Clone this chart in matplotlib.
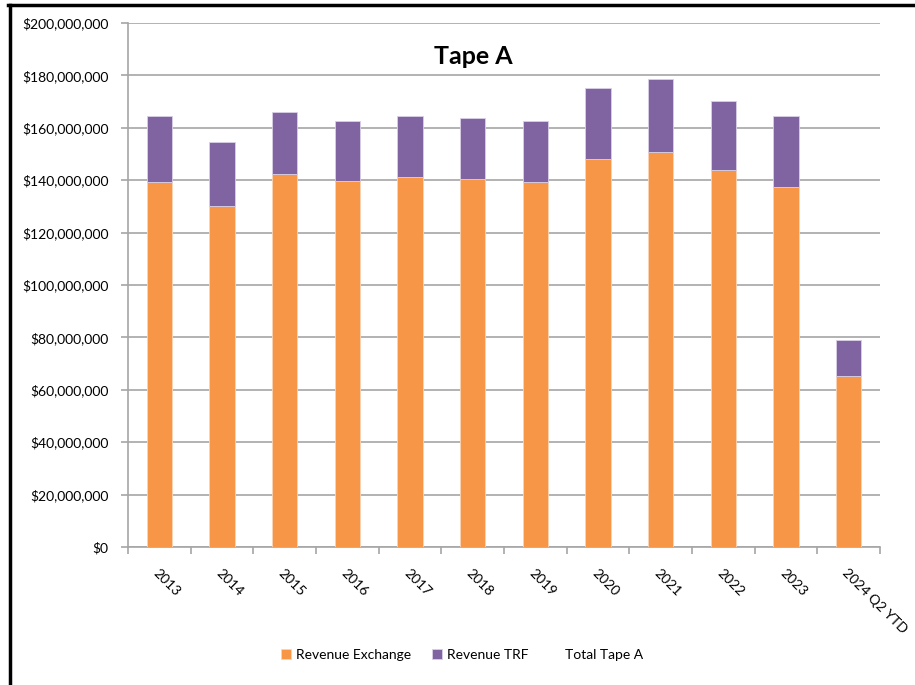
import matplotlib
matplotlib.use("Agg")
import matplotlib.pyplot as plt
import numpy as np
from matplotlib.lines import Line2D
from matplotlib.ticker import FuncFormatter, MultipleLocator

plt.rcParams['font.family'] = ['Lato', 'DejaVu Sans']

categories = ["2013", "2014", "2015", "2016", "2017", "2018", "2019",
              "2020", "2021", "2022", "2023", "2024 Q2 YTD"]
revenue_exchange = [139.2e6, 130.2e6, 142.5e6, 139.7e6, 141.1e6, 140.6e6,
                    139.2e6, 148.2e6, 150.6e6, 144.0e6, 137.3e6, 65.3e6]
revenue_trf = [25.4e6, 24.4e6, 23.5e6, 23.0e6, 23.5e6, 23.0e6,
               23.5e6, 26.9e6, 27.9e6, 26.4e6, 27.3e6, 13.7e6]
total_tape_a = [e + t for e, t in zip(revenue_exchange, revenue_trf)]

orange = "#F79646"
purple = "#8064A2"
grid = "#A6A6A6"

fig = plt.figure(figsize=(9.15, 6.85), dpi=100)
ax = fig.add_axes([128/915, 1-547/685, 752/915, 524/685])

x = np.arange(len(categories))
b1 = ax.bar(x, revenue_exchange, width=0.4, color=orange, edgecolor="#FBD3B5",
            linewidth=0.6, label="Revenue Exchange", zorder=3)
b2 = ax.bar(x, revenue_trf, width=0.4, bottom=revenue_exchange, color=purple,
            edgecolor="#D9D0E6", linewidth=0.6, label="Revenue TRF", zorder=3)
l3, = ax.plot(x, total_tape_a, color="none", label="Total Tape A")

ax.set_xlim(-0.5, len(categories) - 0.5)
ax.set_ylim(0, 200e6)
ax.yaxis.set_major_locator(MultipleLocator(20e6))
ax.yaxis.set_major_formatter(FuncFormatter(lambda v, p: "$" + format(int(round(v)), ",")))
ax.yaxis.grid(True, color=grid, linewidth=1.2, zorder=0)
ax.set_axisbelow(True)

for s in ["top", "right"]:
    ax.spines[s].set_visible(False)
ax.spines["left"].set_color(grid)
ax.spines["bottom"].set_color(grid)
ax.spines["left"].set_linewidth(1.2)
ax.spines["bottom"].set_linewidth(1.2)

ax.tick_params(axis="y", length=5, color=grid, width=1.2, labelsize=10, pad=9,
               labelcolor="#000000")
ax.set_xticks(np.arange(len(categories) + 1) - 0.5, minor=False)
ax.set_xticklabels([])
ax.tick_params(axis="x", which="major", length=5, color=grid, width=1.2)
ax.set_xticks(x, minor=True)
ax.set_xticklabels(categories, minor=True, rotation=-45, ha="left", va="top",
                   rotation_mode="anchor", fontsize=10)
ax.tick_params(axis="x", which="minor", length=0, pad=14)

fig.text(473/915, 1-57/685, "Tape A", ha="center", va="center",
         fontsize=18, fontweight="bold")

leg = fig.legend(handles=[b1, b2, l3],
                 labels=["Revenue Exchange", "Revenue TRF", "Total Tape A"],
                 loc="center", bbox_to_anchor=(462/915, 1-655/685), ncol=3,
                 frameon=False, fontsize=10, handlelength=0.7, handleheight=0.7,
                 handletextpad=0.4, columnspacing=1.5)

# screenshot border (top and left)
fig.add_artist(Line2D([8/915, 1], [1-4.5/685, 1-4.5/685], color="black",
                      linewidth=2.5, transform=fig.transFigure))
fig.add_artist(Line2D([9.5/915, 9.5/915], [0, 1-4.5/685], color="black",
                      linewidth=2.5, transform=fig.transFigure))

fig.savefig("out.png", dpi=100)
